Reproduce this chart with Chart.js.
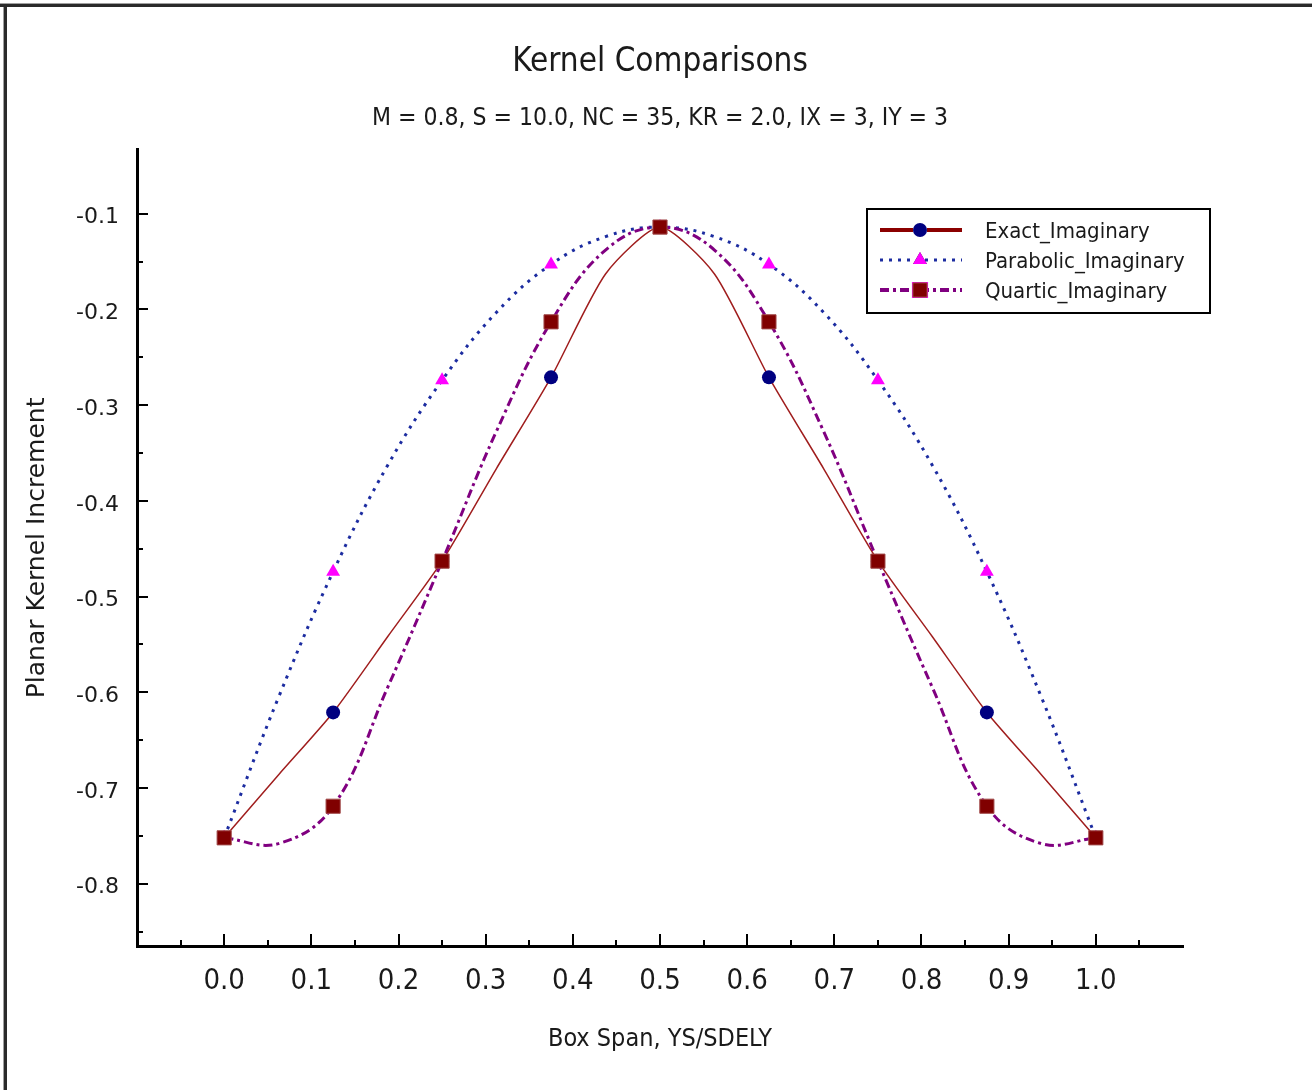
<!DOCTYPE html>
<html><head><meta charset="utf-8">
<script src="https://cdn.jsdelivr.net/npm/chart.js@4.4.1/dist/chart.umd.min.js"></script>
<style>html,body{margin:0;padding:0;background:#fff;overflow:hidden}</style>
</head><body>
<canvas id="c" width="1312" height="1090"></canvas>
<script>
// ---- data ----
const xValues = [0, 0.0625, 0.125, 0.1875, 0.25, 0.3125, 0.375, 0.4375, 0.5,
                 0.5625, 0.625, 0.6875, 0.75, 0.8125, 0.875, 0.9375, 1.0];
const exactImag = [-0.752, -0.686, -0.621, -0.542, -0.463, -0.366, -0.271, -0.163, -0.114,
                   -0.163, -0.271, -0.366, -0.463, -0.542, -0.621, -0.686, -0.752];
const parabolicImag = [-0.752, -0.605, -0.474, -0.363, -0.274, -0.203, -0.153, -0.124, -0.114,
                       -0.124, -0.153, -0.203, -0.274, -0.363, -0.474, -0.605, -0.752];
const quarticImag = [-0.752, -0.758, -0.719, -0.595, -0.463, -0.327, -0.213, -0.138, -0.114,
                     -0.138, -0.213, -0.327, -0.463, -0.595, -0.719, -0.758, -0.752];
const markerStep = 2; // markers drawn at x = 0, 0.125, 0.25, ...
const seriesNames = ['Exact_Imaginary', 'Parabolic_Imaginary', 'Quartic_Imaginary'];
const xTickValues = [0.0, 0.1, 0.2, 0.3, 0.4, 0.5, 0.6, 0.7, 0.8, 0.9, 1.0];
const xMinorValues = [-0.05, 0.05, 0.15, 0.25, 0.35, 0.45, 0.55, 0.65, 0.75, 0.85, 0.95, 1.05];
const yTickValues = [-0.1, -0.2, -0.3, -0.4, -0.5, -0.6, -0.7, -0.8];
const yMinorValues = [-0.15, -0.25, -0.35, -0.45, -0.55, -0.65, -0.75, -0.85];
const titleText = 'Kernel Comparisons';
const subtitleText = 'M = 0.8, S = 10.0, NC = 35, KR = 2.0, IX = 3, IY = 3';
const xTitle = 'Box Span, YS/SDELY';
const yTitle = 'Planar Kernel Increment';

const COND = "'DejaVu Sans Condensed', 'Liberation Sans Narrow', 'DejaVu Sans', sans-serif";
const NARROW = "'Liberation Sans Narrow', 'DejaVu Sans Condensed', 'Liberation Sans', sans-serif";
const DEJA = "'DejaVu Sans', sans-serif";
const TXT = '#1a1a1a';

function pts(arr) { return xValues.map((x, i) => ({ x: x, y: arr[i] })); }
const showMarker = c => c.dataIndex % markerStep === 0;

const decor = {
  id: 'decor',
  beforeDraw(chart) {
    const ctx = chart.ctx;
    ctx.save();
    ctx.fillStyle = '#fff';
    ctx.fillRect(0, 0, chart.width, chart.height);
    ctx.fillStyle = '#a0a0a0';
    ctx.fillRect(0, 3, chart.width, 1);
    ctx.fillRect(3, 3, 1, chart.height);
    ctx.fillStyle = '#2a2a2a';
    ctx.fillRect(0, 4, chart.width, 3);
    ctx.fillRect(4, 4, 3, chart.height);
    ctx.restore();
  },
  afterDraw(chart) {
    const ctx = chart.ctx;
    const xs = chart.scales.x, ys = chart.scales.y;
    const a = chart.chartArea;
    ctx.save();
    ctx.strokeStyle = '#000';
    ctx.lineWidth = 2;
    ctx.beginPath();
    xTickValues.forEach(v => { const p = Math.round(xs.getPixelForValue(v)); ctx.moveTo(p, a.bottom); ctx.lineTo(p, a.bottom - 12); });
    xMinorValues.forEach(v => { const p = Math.round(xs.getPixelForValue(v)); ctx.moveTo(p, a.bottom); ctx.lineTo(p, a.bottom - 6); });
    yTickValues.forEach(v => { const p = Math.round(ys.getPixelForValue(v)); ctx.moveTo(a.left, p); ctx.lineTo(a.left + 11, p); });
    yMinorValues.forEach(v => { const p = Math.round(ys.getPixelForValue(v)); ctx.moveTo(a.left, p); ctx.lineTo(a.left + 6, p); });
    ctx.stroke();

    // legend box
    const L = { x: 867, y: 209, w: 343, h: 104 };
    ctx.fillStyle = '#fff';
    ctx.fillRect(L.x, L.y, L.w, L.h);
    ctx.lineWidth = 2;
    ctx.strokeStyle = '#000';
    ctx.strokeRect(L.x, L.y, L.w, L.h);
    const rows = [230, 260, 290];
    const legendLine = [
      { color: '#8b0000', width: 4, dash: [] },
      { color: '#1c2ca0', width: 3, dash: [3, 6] },
      { color: '#800080', width: 4, dash: [9, 4, 3, 4] }
    ];
    chart.data.datasets.forEach((ds, i) => {
      const y = rows[i];
      ctx.save();
      ctx.strokeStyle = legendLine[i].color;
      ctx.lineWidth = legendLine[i].width;
      ctx.setLineDash(legendLine[i].dash);
      ctx.beginPath(); ctx.moveTo(880, y); ctx.lineTo(962, y); ctx.stroke();
      ctx.restore();
      Chart.helpers.drawPoint(ctx, {
        pointStyle: ds.pointStyle, radius: ds.legendRadius, borderWidth: ds.pointBorderWidth || 0, rotation: 0
      }, 920, y);
      ctx.fillStyle = ds.pointBackgroundColor;
      ctx.strokeStyle = ds.pointBorderColor;
      ctx.lineWidth = ds.pointBorderWidth || 0;
      ctx.fill();
      if (ds.pointBorderWidth) ctx.stroke();
      ctx.fillStyle = TXT;
      ctx.font = "22px " + COND;
      ctx.textBaseline = 'alphabetic';
      ctx.textAlign = 'left';
      ctx.fillText(ds.label, 985, y + 8);
    });
    ctx.restore();
  }
};

new Chart(document.getElementById('c'), {
  type: 'line',
  data: {
    datasets: [
      { label: seriesNames[0], data: pts(exactImag), borderColor: '#a01e1e', borderWidth: 1.5, tension: 0.22,
        pointStyle: 'circle', pointRadius: c => showMarker(c) ? 7 : 0, legendRadius: 7,
        pointBackgroundColor: '#000080', pointBorderColor: '#000080', pointBorderWidth: 0, order: 3 },
      { label: seriesNames[1], data: pts(parabolicImag), borderColor: '#1c2ca0', borderWidth: 3, borderDash: [3, 6], tension: 0.4,
        pointStyle: 'triangle', pointRadius: c => showMarker(c) ? 8 : 0, legendRadius: 8,
        pointBackgroundColor: '#ff00ff', pointBorderColor: '#ff00ff', pointBorderWidth: 0, order: 2 },
      { label: seriesNames[2], data: pts(quarticImag), borderColor: '#800080', borderWidth: 3, borderDash: [9, 4, 3, 4], tension: 0.4,
        pointStyle: 'rect', pointRadius: c => showMarker(c) ? 10 : 0, legendRadius: 10,
        pointBackgroundColor: '#800000', pointBorderColor: '#a04848', pointBorderWidth: 1, order: 1 }
    ]
  },
  options: {
    responsive: false, animation: false, events: [], devicePixelRatio: 1,
    layout: { padding: { left: 0, right: 129, top: 0, bottom: 0 } },
    plugins: {
      legend: { display: false }, tooltip: { enabled: false },
      title: { display: true, fullSize: false, text: titleText, color: TXT, font: { family: COND, size: 33, weight: 'normal', lineHeight: 1.2 },
               padding: { top: 43, bottom: 0 } },
      subtitle: { display: true, fullSize: false, text: subtitleText, color: TXT, font: { family: COND, size: 24.5, weight: 'normal', lineHeight: 1.2 },
                  padding: { top: 21, bottom: 16.8 } }
    },
    scales: {
      x: {
        type: 'linear', min: -0.1, max: 1.1,
        afterBuildTicks: s => { s.ticks = xTickValues.map(v => ({ value: v })); },
        afterFit: s => { s.height = 144; },
        grid: { display: false, drawTicks: false },
        border: { display: true, width: 3, color: '#000' },
        ticks: { color: TXT, font: { family: NARROW, size: 29 }, padding: 18, maxRotation: 0, autoSkip: false,
                 callback: v => Number(v).toFixed(1) },
        title: { display: true, text: xTitle, color: TXT, font: { family: COND, size: 25, lineHeight: 1.2 }, padding: { top: 0, bottom: 36 } }
      },
      y: {
        type: 'linear', min: -0.865, max: -0.0333,
        afterBuildTicks: s => { s.ticks = yTickValues.map(v => ({ value: v })); },
        afterFit: s => { s.width = 137; },
        grid: { display: false, drawTicks: false },
        border: { display: true, width: 3, color: '#000' },
        ticks: { color: TXT, font: { family: DEJA, size: 22 }, padding: 18, labelOffset: 4, autoSkip: false,
                 callback: v => Number(v).toFixed(1) },
        title: { display: true, text: yTitle, color: TXT, font: { family: DEJA, size: 25, lineHeight: 1.2 }, padding: { top: 22, bottom: 0 } }
      }
    }
  },
  plugins: [decor]
});
</script>
</body></html>
